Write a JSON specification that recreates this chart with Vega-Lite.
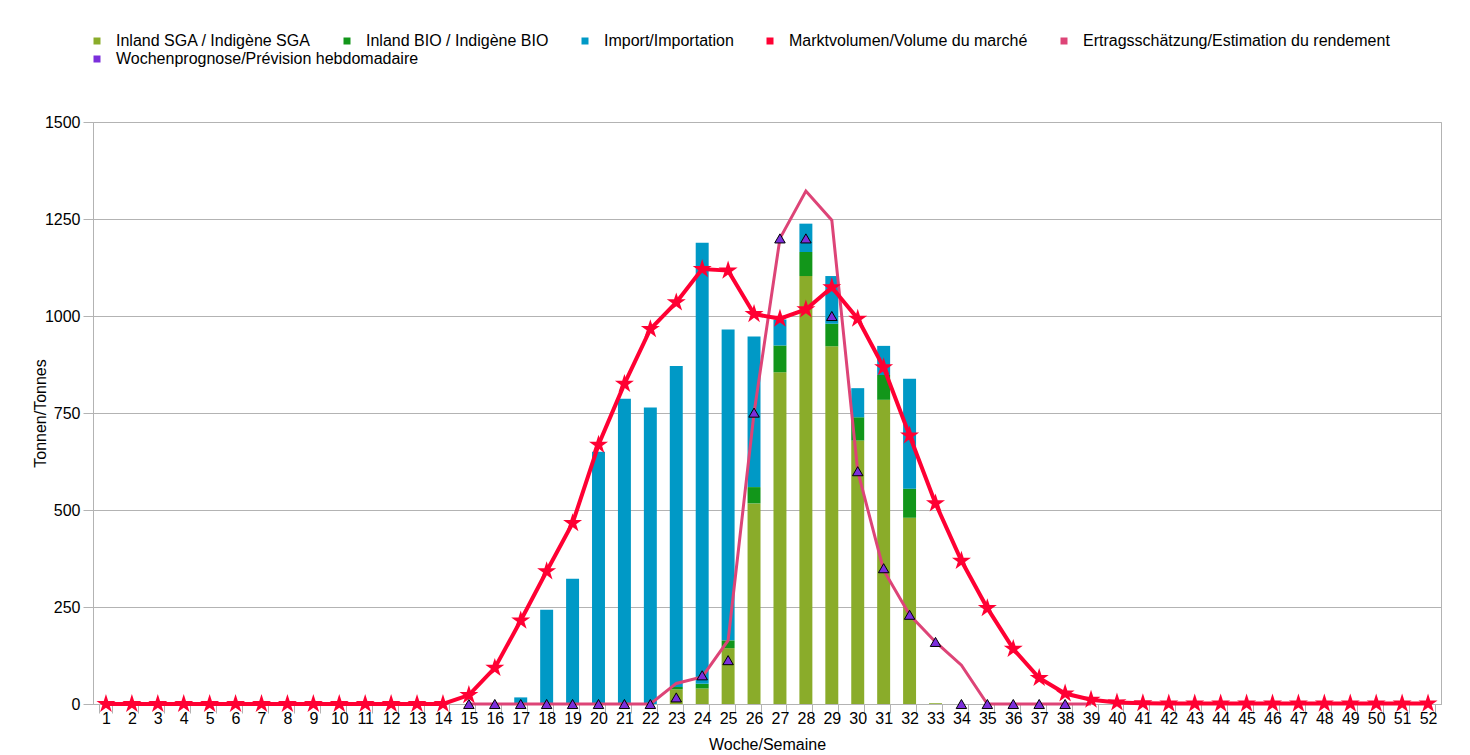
{
  "$schema": "https://vega.github.io/schema/vega-lite/v6.json",
  "autosize": {"type": "none"},
  "width": 1348,
  "height": 582,
  "padding": {"left": 93, "top": 122, "right": 29, "bottom": 51},
  "background": "white",
  "config": {
    "font": "Liberation Sans",
    "view": {"stroke": "#b3b3b3", "strokeWidth": 1},
    "axis": {
      "domainColor": "#b3b3b3",
      "gridColor": "#b3b3b3",
      "tickColor": "#b3b3b3",
      "labelColor": "#000000",
      "titleColor": "#000000",
      "labelFont": "Liberation Sans",
      "titleFont": "Liberation Sans",
      "labelFontSize": 16,
      "titleFontSize": 16,
      "titleFontWeight": "normal"
    },
    "legend": {
      "labelFont": "Liberation Sans",
      "labelFontSize": 16,
      "labelColor": "#000000",
      "labelLimit": 0
    }
  },
  "datasets": {
    "bars": [
      {"week": 17, "cat": "Import/Importation", "ord": 3, "value": 17},
      {"week": 18, "cat": "Import/Importation", "ord": 3, "value": 243},
      {"week": 19, "cat": "Import/Importation", "ord": 3, "value": 323},
      {"week": 20, "cat": "Import/Importation", "ord": 3, "value": 650},
      {"week": 21, "cat": "Import/Importation", "ord": 3, "value": 787},
      {"week": 22, "cat": "Import/Importation", "ord": 3, "value": 764},
      {"week": 23, "cat": "Inland SGA / Indigène SGA", "ord": 1, "value": 38},
      {"week": 23, "cat": "Inland BIO / Indigène BIO", "ord": 2, "value": 6},
      {"week": 23, "cat": "Import/Importation", "ord": 3, "value": 827},
      {"week": 24, "cat": "Inland SGA / Indigène SGA", "ord": 1, "value": 40},
      {"week": 24, "cat": "Inland BIO / Indigène BIO", "ord": 2, "value": 12},
      {"week": 24, "cat": "Import/Importation", "ord": 3, "value": 1137},
      {"week": 25, "cat": "Inland SGA / Indigène SGA", "ord": 1, "value": 144},
      {"week": 25, "cat": "Inland BIO / Indigène BIO", "ord": 2, "value": 20},
      {"week": 25, "cat": "Import/Importation", "ord": 3, "value": 801},
      {"week": 26, "cat": "Inland SGA / Indigène SGA", "ord": 1, "value": 517},
      {"week": 26, "cat": "Inland BIO / Indigène BIO", "ord": 2, "value": 42},
      {"week": 26, "cat": "Import/Importation", "ord": 3, "value": 388},
      {"week": 27, "cat": "Inland SGA / Indigène SGA", "ord": 1, "value": 855},
      {"week": 27, "cat": "Inland BIO / Indigène BIO", "ord": 2, "value": 69},
      {"week": 27, "cat": "Import/Importation", "ord": 3, "value": 67},
      {"week": 28, "cat": "Inland SGA / Indigène SGA", "ord": 1, "value": 1103},
      {"week": 28, "cat": "Inland BIO / Indigène BIO", "ord": 2, "value": 62},
      {"week": 28, "cat": "Import/Importation", "ord": 3, "value": 73},
      {"week": 29, "cat": "Inland SGA / Indigène SGA", "ord": 1, "value": 922},
      {"week": 29, "cat": "Inland BIO / Indigène BIO", "ord": 2, "value": 58},
      {"week": 29, "cat": "Import/Importation", "ord": 3, "value": 123},
      {"week": 30, "cat": "Inland SGA / Indigène SGA", "ord": 1, "value": 679},
      {"week": 30, "cat": "Inland BIO / Indigène BIO", "ord": 2, "value": 60},
      {"week": 30, "cat": "Import/Importation", "ord": 3, "value": 75},
      {"week": 31, "cat": "Inland SGA / Indigène SGA", "ord": 1, "value": 784},
      {"week": 31, "cat": "Inland BIO / Indigène BIO", "ord": 2, "value": 64},
      {"week": 31, "cat": "Import/Importation", "ord": 3, "value": 75},
      {"week": 32, "cat": "Inland SGA / Indigène SGA", "ord": 1, "value": 480},
      {"week": 32, "cat": "Inland BIO / Indigène BIO", "ord": 2, "value": 75},
      {"week": 32, "cat": "Import/Importation", "ord": 3, "value": 283},
      {"week": 33, "cat": "Inland SGA / Indigène SGA", "ord": 1, "value": 2}
    ],
    "market": [
      {"week": 1, "value": 0}, {"week": 2, "value": 0}, {"week": 3, "value": 0}, {"week": 4, "value": 0},
      {"week": 5, "value": 0}, {"week": 6, "value": 0}, {"week": 7, "value": 0}, {"week": 8, "value": 0},
      {"week": 9, "value": 0}, {"week": 10, "value": 0}, {"week": 11, "value": 0}, {"week": 12, "value": 0},
      {"week": 13, "value": 0}, {"week": 14, "value": 0}, {"week": 15, "value": 23}, {"week": 16, "value": 93},
      {"week": 17, "value": 215}, {"week": 18, "value": 342}, {"week": 19, "value": 466}, {"week": 20, "value": 668},
      {"week": 21, "value": 825}, {"week": 22, "value": 966}, {"week": 23, "value": 1035}, {"week": 24, "value": 1121},
      {"week": 25, "value": 1117}, {"week": 26, "value": 1005}, {"week": 27, "value": 993}, {"week": 28, "value": 1017},
      {"week": 29, "value": 1074}, {"week": 30, "value": 993}, {"week": 31, "value": 868}, {"week": 32, "value": 692},
      {"week": 33, "value": 517}, {"week": 34, "value": 369}, {"week": 35, "value": 247}, {"week": 36, "value": 142},
      {"week": 37, "value": 67}, {"week": 38, "value": 27}, {"week": 39, "value": 11}, {"week": 40, "value": 4},
      {"week": 41, "value": 2}, {"week": 42, "value": 1}, {"week": 43, "value": 1}, {"week": 44, "value": 1},
      {"week": 45, "value": 1}, {"week": 46, "value": 1}, {"week": 47, "value": 1}, {"week": 48, "value": 1},
      {"week": 49, "value": 1}, {"week": 50, "value": 1}, {"week": 51, "value": 1}, {"week": 52, "value": 1}
    ],
    "yield": [
      {"week": 15, "value": 0}, {"week": 16, "value": 0}, {"week": 17, "value": 0}, {"week": 18, "value": 0},
      {"week": 19, "value": 0}, {"week": 20, "value": 0}, {"week": 21, "value": 0}, {"week": 22, "value": 0},
      {"week": 23, "value": 53}, {"week": 24, "value": 70}, {"week": 25, "value": 164}, {"week": 26, "value": 750},
      {"week": 27, "value": 1200}, {"week": 28, "value": 1322}, {"week": 29, "value": 1247}, {"week": 30, "value": 600},
      {"week": 31, "value": 345}, {"week": 32, "value": 230}, {"week": 33, "value": 160}, {"week": 34, "value": 100},
      {"week": 35, "value": 0}, {"week": 36, "value": 0}, {"week": 37, "value": 0}, {"week": 38, "value": 0},
      {"week": 39, "value": 0}
    ],
    "forecast": [
      {"week": 15, "value": 0}, {"week": 16, "value": 0}, {"week": 17, "value": 0}, {"week": 18, "value": 0},
      {"week": 19, "value": 0}, {"week": 20, "value": 0}, {"week": 21, "value": 0}, {"week": 22, "value": 0},
      {"week": 23, "value": 17}, {"week": 24, "value": 74}, {"week": 25, "value": 113}, {"week": 26, "value": 751},
      {"week": 27, "value": 1200}, {"week": 28, "value": 1200}, {"week": 29, "value": 1000}, {"week": 30, "value": 600},
      {"week": 31, "value": 350}, {"week": 32, "value": 230}, {"week": 33, "value": 160}, {"week": 34, "value": 0},
      {"week": 35, "value": 0}, {"week": 36, "value": 0}, {"week": 37, "value": 0}, {"week": 38, "value": 0}
    ]
  },
  "encoding": {
    "x": {
      "field": "week",
      "type": "ordinal",
      "scale": {"paddingInner": 0.5, "paddingOuter": 0.25},
      "axis": {
        "title": "Woche/Semaine",
        "labelAngle": 0,
        "tickBand": "extent",
        "tickSize": 9,
        "labelPadding": -3,
        "titleY": 40,
        "titleBaseline": "middle"
      }
    },
    "y": {
      "field": "value",
      "type": "quantitative",
      "title": "Tonnen/Tonnes",
      "scale": {"domain": [0, 1500], "nice": false},
      "axis": {
        "values": [0, 250, 500, 750, 1000, 1250, 1500],
        "format": "d",
        "tickSize": 10,
        "labelPadding": 3,
        "titleX": -53,
        "titleY": 291,
        "titleAngle": -90,
        "titleAlign": "center",
        "titleBaseline": "middle"
      }
    }
  },
  "layer": [
    {
      "data": {"name": "bars"},
      "mark": {"type": "bar"},
      "encoding": {
        "y": {"field": "value", "type": "quantitative", "aggregate": "sum", "stack": "zero", "title": "Tonnen/Tonnes"},
        "order": {"field": "ord", "type": "quantitative"},
        "color": {
          "field": "cat",
          "type": "nominal",
          "scale": {
            "domain": ["Inland SGA / Indigène SGA", "Inland BIO / Indigène BIO", "Import/Importation", "Marktvolumen/Volume du marché", "Ertragsschätzung/Estimation du rendement"],
            "range": ["#8aac2a", "#12961a", "#0099c6", "#ff0033", "#dd4477"]
          },
          "legend": {
            "title": null,
            "orient": "none",
            "legendX": -4,
            "legendY": -89,
            "direction": "horizontal",
            "columns": 5,
            "symbolType": "square",
            "symbolSize": 49,
            "columnPadding": 28,
            "labelOffset": 11,
            "labelLimit": 0
          }
        }
      }
    },
    {
      "data": {"name": "yield"},
      "mark": {"type": "line", "color": "#dd4477", "strokeWidth": 3},
      "encoding": {}
    },
    {
      "data": {"name": "forecast"},
      "mark": {"type": "point", "shape": "triangle-up", "filled": true, "stroke": "#000000", "strokeWidth": 1, "size": 110, "opacity": 1},
      "encoding": {
        "fill": {
          "datum": "Wochenprognose/Prévision hebdomadaire",
          "type": "nominal",
          "scale": {"domain": ["Wochenprognose/Prévision hebdomadaire"], "range": ["#7b2fdb"]},
          "legend": {
            "title": null,
            "orient": "none",
            "legendX": -4,
            "legendY": -71,
            "direction": "horizontal",
            "symbolType": "square",
            "symbolSize": 49,
            "symbolStrokeWidth": 0,
            "labelOffset": 11,
            "labelLimit": 0
          }
        }
      }
    },
    {
      "data": {"name": "market"},
      "mark": {"type": "line", "color": "#ff0033", "strokeWidth": 4},
      "encoding": {}
    },
    {
      "data": {"name": "market"},
      "mark": {"type": "point", "filled": true, "fill": "#ff0033", "stroke": null, "opacity": 1, "size": 400,
        "shape": "M0,-1L0.223,-0.307L0.951,-0.309L0.361,0.117L0.588,0.809L0,0.38L-0.588,0.809L-0.361,0.117L-0.951,-0.309L-0.223,-0.307Z"},
      "encoding": {}
    }
  ]
}
